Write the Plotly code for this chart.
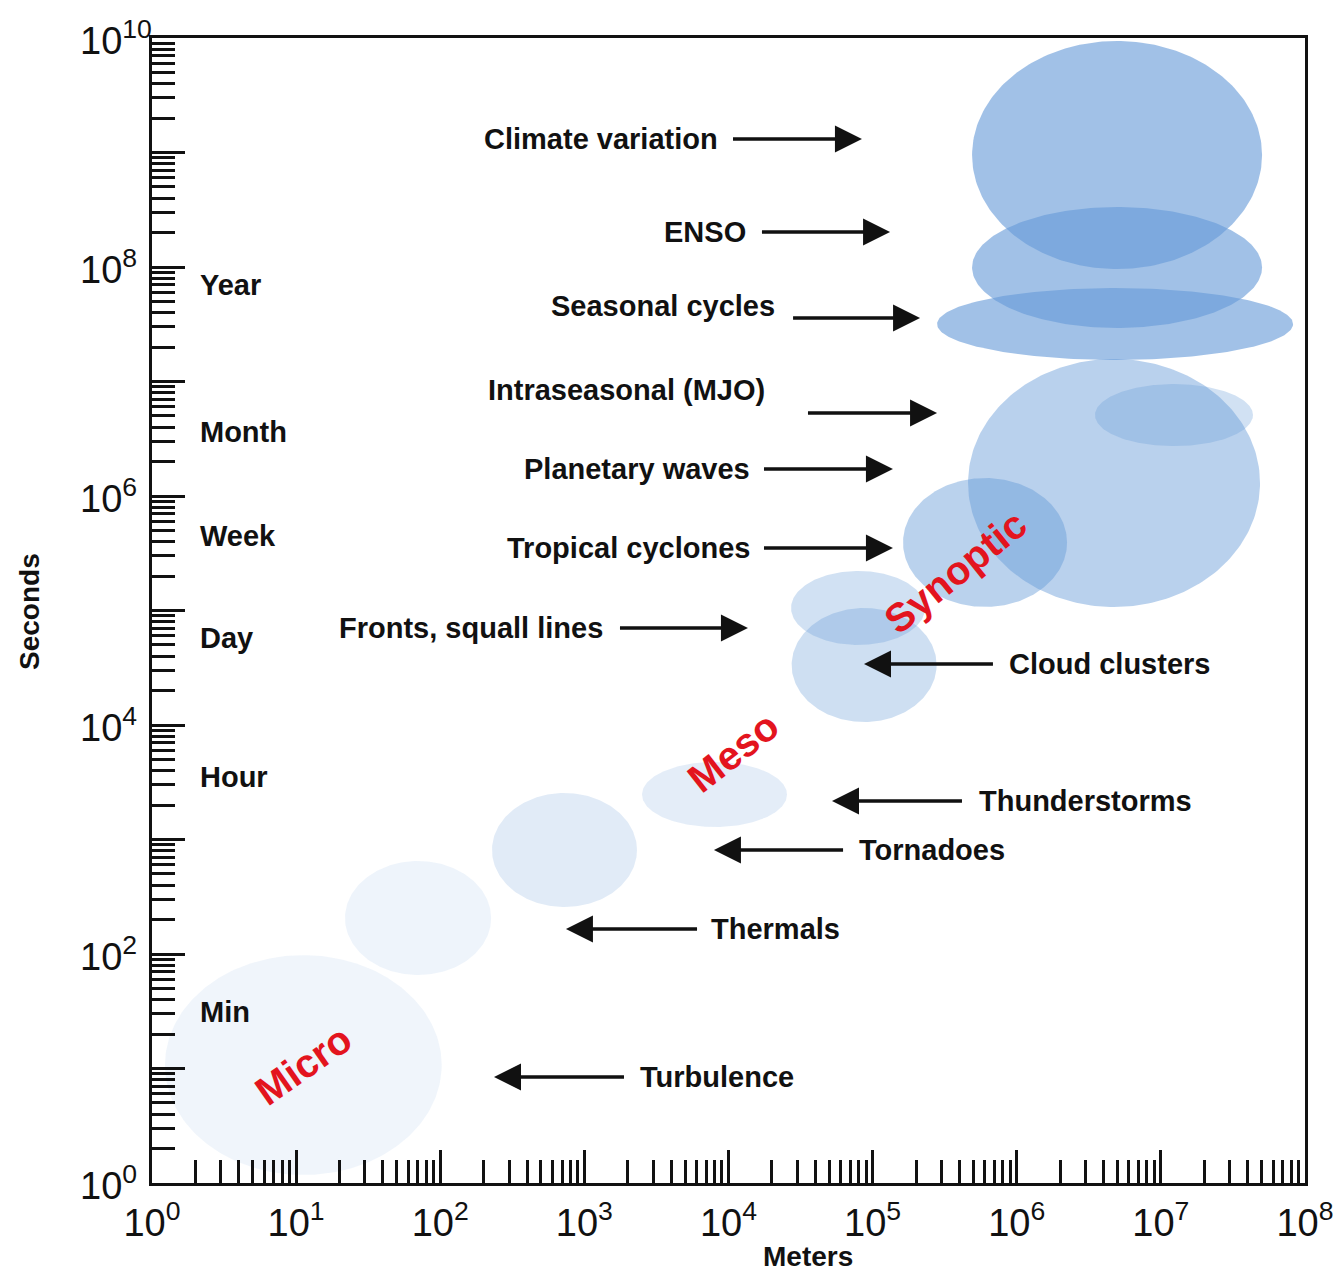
import numpy as np
import plotly.graph_objects as go

# ---------------- data (log10 units: x = meters, y = seconds) ----------------
phenomena = ["Turbulence", "Thermals", "Tornadoes", "Thunderstorms", "Cloud clusters",
             "Fronts, squall lines", "Tropical cyclones", "Planetary waves",
             "Intraseasonal (MJO)", "Seasonal cycles", "ENSO", "Climate variation"]
center_log_m = [1.05, 1.846, 2.862, 3.903, 4.941, 4.899, 5.780, 6.675, 7.091, 6.682, 6.696, 6.696]
center_log_s = [1.03, 2.314, 2.908, 3.393, 4.524, 5.022, 5.594, 6.114, 6.707, 7.502, 7.996, 8.978]
halfwidth_log_m = [0.96, 0.507, 0.503, 0.503, 0.503, 0.465, 0.569, 1.013, 0.548, 1.235, 1.006, 1.006]
halfheight_log_s = [0.96, 0.498, 0.498, 0.284, 0.498, 0.323, 0.563, 1.083, 0.271, 0.314, 0.528, 0.996]
fill_alpha = [0.10, 0.11, 0.20, 0.18, 0.32, 0.30, 0.45, 0.46, 0.30, 0.62, 0.62, 0.62]

x_decades = list(range(0, 9))
y_decades = list(range(0, 11))
y_labeled_decades = [0, 2, 4, 6, 8, 10]
x_ticktext = [f"10<sup>{d}</sup>" for d in x_decades]
y_ticktext = [f"10<sup>{d}</sup>" for d in y_labeled_decades]

time_labels = ["Year", "Month", "Week", "Day", "Hour", "Min"]
time_label_log_s = [7.843, 6.559, 5.651, 4.760, 3.546, 1.493]

scale_labels = ["Micro", "Meso", "Synoptic"]

# ---------------- layout positions ----------------
# label + arrow: label edge (arrow tail) x, arrow y, arrow tip x  (log10 units)
label_edge_x = [3.372, 3.865, 4.892, 5.724, 5.932, 3.143, 4.163, 4.163, 4.267, 4.337, 4.135, 3.941]
arrow_y = [0.926, 2.218, 2.908, 3.336, 4.533, 4.847, 5.546, 6.236, 6.725, 7.555, 8.306, 9.118]
arrow_tip_x = [2.373, 2.872, 3.899, 4.718, 4.940, 4.135, 5.141, 5.141, 5.447, 5.329, 5.121, 4.926]
label_side = ["right", "right", "right", "right", "right", "left", "left", "left",
              "left", "left", "left", "left"]          # side of the arrow the label sits on
arrow_gap_px = [14, 12, 14, 15, 14, 15, 12, 12, 41, 16, 14, 13]
label_raise_px = [0, 0, 0, 0, 0, 0, 0, 0, 21, 10, 0, 0]
scale_label_pos = [(1.048, 1.031, -35), (4.031, 3.764, -38), (5.572, 5.336, -39)]

FONT = "Liberation Sans, Arial, sans-serif"
BASE_RGB = (103, 155, 216)
INK = "#111111"
LABEL_SIZE = 29

fig = go.Figure()

t = np.linspace(0, 2 * np.pi, 241)
for name, cx, cy, rx, ry, a in zip(phenomena, center_log_m, center_log_s,
                                   halfwidth_log_m, halfheight_log_s, fill_alpha):
    xs = 10 ** (cx + rx * np.cos(t))
    ys = 10 ** (cy + ry * np.sin(t))
    fig.add_trace(go.Scatter(
        x=xs, y=ys, mode="lines", fill="toself", name=name,
        line=dict(width=0, color="rgba(0,0,0,0)"),
        fillcolor=f"rgba({BASE_RGB[0]},{BASE_RGB[1]},{BASE_RGB[2]},{a})",
        hoverinfo="skip", showlegend=False))

annotations = []
for name, ex, ay, tx, side, gap, raise_px in zip(phenomena, label_edge_x, arrow_y, arrow_tip_x,
                                                 label_side, arrow_gap_px, label_raise_px):
    ann = dict(
        x=tx, y=ay, ax=ex, ay=ay, xref="x", yref="y", axref="x", ayref="y",
        text=f"<b>{name}</b>", showarrow=True,
        arrowhead=2, arrowsize=1.5, arrowwidth=3.6, arrowcolor=INK,
        arrowside="end+start", startarrowhead=0, startstandoff=gap,
        xanchor="right" if side == "left" else "left", yanchor="middle",
        font=dict(family=FONT, size=LABEL_SIZE, color=INK))
    if raise_px:
        ann.update(height=36 + 2 * raise_px, valign="top")
    annotations.append(ann)
for name, ly in zip(time_labels, time_label_log_s):
    annotations.append(dict(
        x=0.319, y=ly, xref="x", yref="y", text=f"<b>{name}</b>", showarrow=False,
        xanchor="left", yanchor="middle",
        font=dict(family=FONT, size=LABEL_SIZE, color=INK)))
for name, (sx, sy, ang) in zip(scale_labels, scale_label_pos):
    annotations.append(dict(
        x=sx, y=sy, xref="x", yref="y", text=f"<b>{name}</b>", showarrow=False,
        textangle=ang, xanchor="center", yanchor="middle",
        font=dict(family=FONT, size=40, color="#e3141e")))
# y tick labels (left aligned as in the original)
for d, txt in zip(y_labeled_decades, y_ticktext):
    annotations.append(dict(
        x=-0.0642, y=d, xref="paper", yref="y", text=txt, showarrow=False,
        xanchor="left", yanchor="middle",
        font=dict(family=FONT, size=38, color=INK)))
annotations.append(dict(x=-0.1058, y=0.4987, xref="paper", yref="paper", text="<b>Seconds</b>",
                        showarrow=False, textangle=-90, xanchor="center", yanchor="middle",
                        font=dict(family=FONT, size=28, color=INK)))
annotations.append(dict(x=0.569, y=-0.0646, xref="paper", yref="paper", text="<b>Meters</b>",
                        showarrow=False, xanchor="center", yanchor="middle",
                        font=dict(family=FONT, size=28, color=INK)))

x_minor = [k * 10 ** d for d in x_decades[:-1] for k in range(2, 10)]
y_minor = [k * 10 ** d for d in y_decades[:-1] for k in range(2, 10)]

axis_common = dict(
    ticks="inside", ticklen=33, tickwidth=2.5, tickcolor=INK,
    showgrid=False, zeroline=False, automargin=False,
    showline=True, linewidth=3, linecolor=INK, mirror=True,
    tickfont=dict(family=FONT, size=38, color=INK),
    ticklabelstandoff=4,
)

# the page body adds an 8px offset; the figure is sized so the plot box lands
# at x 152..1305, y 38..1183 of the window
fig.update_layout(
    width=1333, height=1263,
    margin=dict(l=144, r=36, t=30, b=88, autoexpand=False),
    paper_bgcolor="white", plot_bgcolor="white",
    showlegend=False,
    annotations=annotations,
    xaxis=dict(
        type="log", range=[0, 8],
        tickmode="array", tickvals=[10 ** d for d in x_decades], ticktext=x_ticktext,
        minor=dict(tickmode="array", tickvals=x_minor, ticks="inside", ticklen=23,
                   tickwidth=2.5, tickcolor=INK, showgrid=False),
        **axis_common,
    ),
    yaxis=dict(
        type="log", range=[0, 10],
        tickmode="array", tickvals=[10 ** d for d in y_decades], showticklabels=False,
        minor=dict(tickmode="array", tickvals=y_minor, ticks="inside", ticklen=23,
                   tickwidth=2.5, tickcolor=INK, showgrid=False),
        **axis_common,
    ),
)

fig.write_html("out.html")
